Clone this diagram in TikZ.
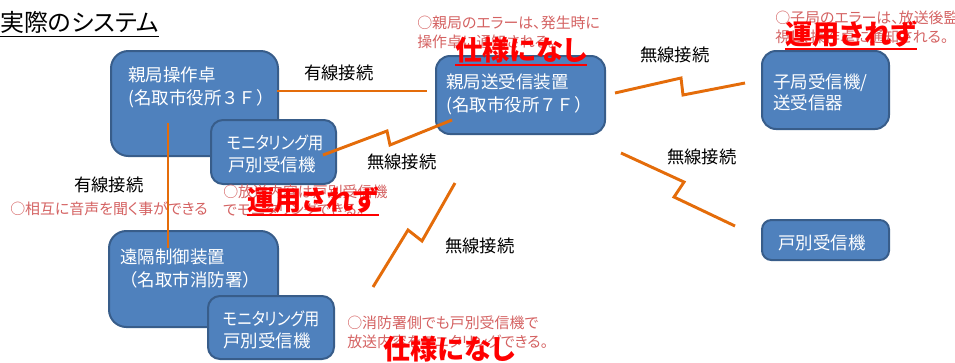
\documentclass[tikz,border=0pt]{standalone}
\usepackage{fontspec}
\newfontfamily\jp[RawFeature=+palt]{Noto Sans CJK JP}
\newfontfamily\jpfull{Noto Sans CJK JP}
\newfontfamily\jpnarrow[RawFeature=+palt,FakeStretch=0.87]{Noto Sans CJK JP}
\definecolor{boxfill}{HTML}{4F81BD}
\definecolor{boxline}{HTML}{385D8A}
\definecolor{wire}{HTML}{E46C0A}
\definecolor{note}{RGB}{212,98,98}
\definecolor{warn}{RGB}{255,0,0}
\tikzset{
  unitbox/.style n args={3}{draw=boxline, line width=1.5pt, fill=boxfill,
    rounded corners=#3, inner sep=0pt, anchor=north west,
    minimum width=#1*0.75pt, minimum height=#2*0.75pt},
  boxtext/.style={anchor=base west, inner sep=0pt, text=white,
    font=\jp\fontsize{13.1pt}{15pt}\selectfont},
  linklabel/.style={anchor=base west, inner sep=0pt, text=black,
    font=\jp\fontsize{13pt}{15pt}\selectfont},
  notetext/.style={anchor=base west, inner sep=0pt, text=note,
    font=\jp\fontsize{11.2pt}{13pt}\selectfont},
  warntext/.style={anchor=base west, inner sep=0pt, text=warn,
    font=\jp\bfseries\fontsize{20.5pt}{22pt}\selectfont},
  wireline/.style={draw=wire, line width=2.2pt},
  warnline/.style={draw=warn, line width=1.5pt},
}
\begin{document}
\begin{tikzpicture}[x=0.75pt,y=-0.75pt]
\useasboundingbox (0,0) rectangle (955,362);

% title
\node[anchor=base west, inner sep=0pt, font=\jp\fontsize{18pt}{20pt}\selectfont] (title) at (0,31.6) {実際のシステム};
\draw[line width=1.1pt] ([yshift=-3.8pt]title.base west) -- ([yshift=-3.8pt]title.base east);

% boxes
\node[unitbox={167}{105}{13pt}] (op) at (110,50) {};
\node[unitbox={125}{64}{9pt}] (mon1) at (210,119) {};
\node[unitbox={169}{78}{10.5pt}] (tx) at (435,55) {};
\node[unitbox={127}{78}{10.5pt}] (child) at (761,50) {};
\node[unitbox={127}{40}{7pt}] (home) at (761,219) {};
\node[unitbox={169}{96}{13pt}] (remote) at (108,230) {};
\node[unitbox={126}{63}{9pt}] (mon2) at (207,295) {};

% box texts
\node[boxtext] (opA) at (128,81.6) {親局操作卓};
\node[boxtext] (opB) at (128,104.6) {(名取市役所{\jpfull ３Ｆ）}};
\node[boxtext] (m1A) at (227,149.6) {\jpnarrow モニタリング用};
\node[boxtext] (m1B) at (228,171.6) {戸別受信機};
\node[boxtext] (txA) at (446,88.6) {親局送受信装置};
\node[boxtext] (txB) at (446,111.6) {(名取市役所{\jpfull ７Ｆ）}};
\node[boxtext] (chA) at (773,88.6) {子局受信機/};
\node[boxtext] (chB) at (773,109.6) {送受信器};
\node[boxtext] (hmA) at (778,249.6) {戸別受信機};
\node[boxtext] (rmA) at (120,263.6) {遠隔制御装置};
\node[boxtext] (rmB) at (120,286.6) {\jpfull （名取市消防署）};
\node[boxtext] (m2A) at (223,325.6) {\jpnarrow モニタリング用};
\node[boxtext] (m2B) at (223,347.6) {戸別受信機};

% connector end points
\coordinate (w1a) at (277,91);
\coordinate (w1b) at (427,91);
\coordinate (w2a) at (168,123);
\coordinate (w2b) at (168,248);
\coordinate (r1a) at (323,155);
\coordinate (r1z) at (387,131);
\coordinate (r1y) at (390,145);
\coordinate (r1b) at (452,120);
\coordinate (r2a) at (615,93);
\coordinate (r2z) at (681,78);
\coordinate (r2y) at (683,95);
\coordinate (r2b) at (745,83);
\coordinate (r3a) at (621,153);
\coordinate (r3z) at (684,182);
\coordinate (r3y) at (674,197);
\coordinate (r3b) at (735,226);
\coordinate (r4a) at (373,287);
\coordinate (r4z) at (408,230);
\coordinate (r4y) at (422,241);
\coordinate (r4b) at (455,183);

% connectors
\draw[wireline] (w1a) -- (w1b);
\draw[wireline] (w2a) -- (w2b);
\draw[wireline] (r1a) -- (r1z) -- (r1y) -- (r1b);
\draw[wireline] (r2a) -- (r2z) -- (r2y) -- (r2b);
\draw[wireline] (r3a) -- (r3z) -- (r3y) -- (r3b);
\draw[wireline] (r4a) -- (r4z) -- (r4y) -- (r4b);

% connector labels
\node[linklabel] (l1) at (304,79.6) {有線接続};
\node[linklabel] (l2) at (74,191.6) {有線接続};
\node[linklabel] (l3) at (367,168.6) {無線接続};
\node[linklabel] (l4) at (640,61.6) {無線接続};
\node[linklabel] (l5) at (667,163.6) {無線接続};
\node[linklabel] (l6) at (445,252.6) {無線接続};

% notes
\node[notetext] (n1a) at (417,28.7) {○親局のエラーは、発生時に};
\node[notetext] (n1b) at (417,47.7) {操作卓に通知される。};
\node[notetext] (n2a) at (775,23.7) {○子局のエラーは、放送後監};
\node[notetext] (n2b) at (775,42.7) {視し、操作卓に通知される。};
\node[notetext] (n3a) at (223,197.7) {○放送内容は戸別受信機};
\node[notetext] (n3b) at (223,215.7) {でモニタリングできる。};
\node[notetext] (n4) at (10,214.7) {○相互に音声を聞く事ができる};
\node[notetext] (n5a) at (347,328.7) {○消防署側でも戸別受信機で};
\node[notetext] (n5b) at (347,347.7) {放送内容をモニタリングできる。};

% warnings
\node[warntext] (x1) at (455,60) {仕様になし};
\draw[warnline] ([yshift=-3.8pt]x1.base west) -- ([yshift=-3.8pt]x1.base east);
\node[warntext] (x2) at (785,44) {運用されず};
\draw[warnline] ([yshift=-3.8pt]x2.base west) -- ([yshift=-3.8pt]x2.base east);
\node[warntext] (x3) at (247,210) {運用されず};
\draw[warnline] ([yshift=-3.8pt]x3.base west) -- ([yshift=-3.8pt]x3.base east);
\node[warntext] (x4) at (383,359) {仕様になし};
\end{tikzpicture}
\end{document}
